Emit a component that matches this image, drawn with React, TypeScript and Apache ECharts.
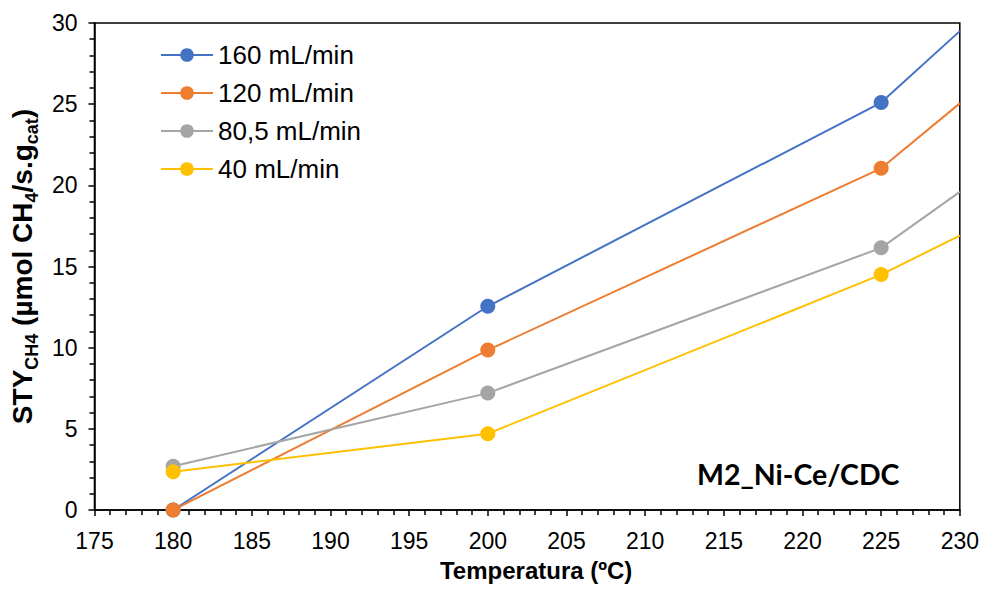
import React, { useEffect, useRef } from "react";
import * as echarts from "echarts";

const seriesNames = ["160 mL/min", "120 mL/min", "80,5 mL/min", "40 mL/min"];
const colors = ["#4472C4", "#ED7D31", "#A5A5A5", "#FFC000"];
const temps = [180, 200, 225, 230];
const s160 = [0, 12.55, 25.1, 29.5];
const s120 = [0, 9.85, 21.05, 25.05];
const s80 = [2.7, 7.2, 16.15, 19.6];
const s40 = [2.35, 4.7, 14.5, 16.9];
const allValues = [s160, s120, s80, s40];

const FONT = "'Liberation Sans', Arial, sans-serif";

export default function App() {
  const ref = useRef<HTMLDivElement>(null);
  useEffect(() => {
    if (!ref.current) return;
    document.body.style.margin = "0";
    document.body.style.overflow = "hidden";
    const chart = echarts.init(ref.current, undefined, { renderer: "svg" });
    const series = allValues.map((vals, i) => ({
      name: seriesNames[i],
      type: "line",
      symbol: "circle",
      symbolSize: 15,
      clip: true,
      itemStyle: { color: colors[i] },
      lineStyle: { color: colors[i], width: 2 },
      data: vals.map((v, j) =>
        j === vals.length - 1
          ? { value: [temps[j], v], symbol: "none" }
          : { value: [temps[j], v] }
      ),
    }));
    chart.setOption({
      animation: false,
      backgroundColor: "#fff",
      textStyle: { fontFamily: FONT },
      grid: {
        left: 92,
        right: 21,
        top: 23,
        bottom: 80,
        show: true,
        borderColor: "#000",
        borderWidth: 1.5,
        backgroundColor: "transparent",
      },
      legend: {
        orient: "vertical",
        left: 160,
        top: 42,
        padding: 0,
        itemWidth: 52,
        itemHeight: 17,
        itemGap: 12,
        textStyle: { fontSize: 26, color: "#000", fontFamily: FONT },
        data: seriesNames,
      },
      xAxis: {
        type: "value",
        min: 175,
        max: 230,
        interval: 5,
        name: "Temperatura (ºC)",
        nameLocation: "middle",
        nameGap: 48,
        nameTextStyle: { fontSize: 24, fontWeight: "bold", color: "#000", fontFamily: FONT, padding: [0, 0, 0, 18] },
        axisLine: { show: true, lineStyle: { color: "#000", width: 1.5 } },
        axisTick: { show: true, inside: false, length: 6, lineStyle: { color: "#000", width: 1.5 } },
        minorTick: { show: true, splitNumber: 5, length: 5, lineStyle: { color: "#000", width: 1.5 } },
        splitLine: { show: false },
        axisLabel: { fontSize: 23, color: "#000", margin: 19, fontFamily: FONT },
      },
      yAxis: {
        type: "value",
        min: 0,
        max: 30,
        interval: 5,
        name: "{b|STY}{s|CH4}{b| (µmol CH}{s|4}{b|/s.g}{s|cat}{b|)}",
        nameLocation: "middle",
        nameRotate: 90,
        nameGap: 55,
        nameTextStyle: {
          color: "#000",
          fontFamily: FONT,
          rich: {
            b: { fontSize: 28, fontWeight: "bold", color: "#000", fontFamily: FONT, lineHeight: 34, verticalAlign: "bottom" },
            s: { fontSize: 18, fontWeight: "bold", color: "#000", fontFamily: FONT, lineHeight: 34, verticalAlign: "bottom", padding: [0, 0, -5, 0] },
          },
        },
        axisLine: { show: true, lineStyle: { color: "#000", width: 1.5 } },
        axisTick: { show: true, inside: false, length: 6, lineStyle: { color: "#000", width: 1.5 } },
        minorTick: { show: true, splitNumber: 5, length: 5, lineStyle: { color: "#000", width: 1.5 } },
        splitLine: { show: false },
        axisLabel: { fontSize: 23, color: "#000", margin: 17, fontFamily: FONT },
      },
      graphic: [
        {
          type: "text",
          left: 697,
          top: 459,
          style: {
            text: "M2_Ni-Ce/CDC",
            fontSize: 28.5,
            fontWeight: "bold",
            fill: "#000",
            fontFamily: "Lato, 'Open Sans', sans-serif",
          },
        },
      ],
      series,
    });
    return () => chart.dispose();
  }, []);
  return <div ref={ref} style={{ width: 982, height: 590, position: "absolute", left: 0, top: 0 }} />;
}
